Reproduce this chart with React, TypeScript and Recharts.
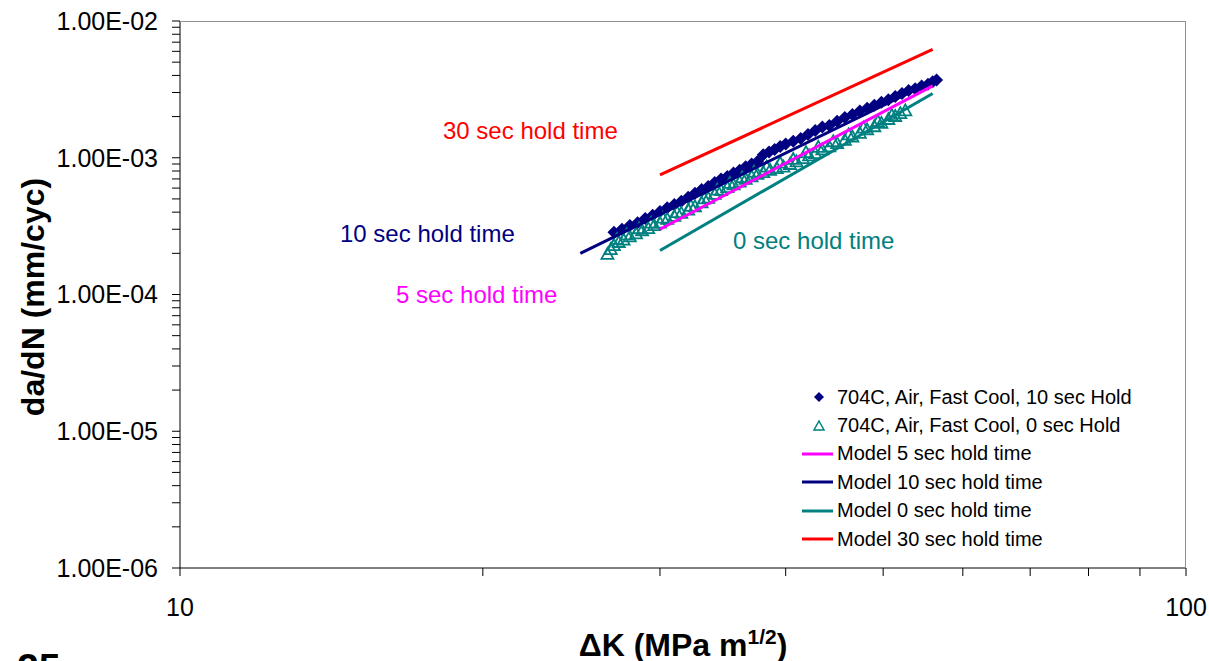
import React from "react";
import { Scatter, ScatterChart, XAxis, YAxis } from "recharts";

// measured 704C, air, fast cool, 10 sec hold (ΔK, da/dN)
const hold10K = [
  27.0, 27.5, 28.0, 28.5, 29.0, 29.5, 30.0, 30.5, 31.0, 31.5, 32.0, 32.5, 33.0,
  33.5, 34.0, 34.5, 35.0, 35.5, 36.0, 36.5, 37.0, 37.5, 38.0, 38.5, 39.0, 39.5,
  40.0, 40.7, 41.4, 42.1, 42.8, 43.5, 44.2, 45.0, 45.8, 46.6, 47.4, 48.2, 49.0,
  49.8, 50.6, 51.4, 52.2, 53.0, 53.8, 54.6, 55.4, 56.0, 56.5,
];
const hold10Rate = [
  2.85e-4, 3.0e-4, 3.2e-4, 3.35e-4, 3.6e-4, 3.8e-4, 4.05e-4, 4.3e-4, 4.55e-4,
  4.8e-4, 5.15e-4, 5.5e-4, 5.85e-4, 6.15e-4, 6.6e-4, 7.0e-4, 7.3e-4, 7.75e-4,
  8.1e-4, 8.6e-4, 9.0e-4, 9.4e-4, 1.05e-3, 1.1e-3, 1.15e-3, 1.21e-3, 1.26e-3,
  1.32e-3, 1.38e-3, 1.48e-3, 1.58e-3, 1.68e-3, 1.72e-3, 1.85e-3, 1.97e-3,
  2.07e-3, 2.2e-3, 2.3e-3, 2.42e-3, 2.55e-3, 2.65e-3, 2.8e-3, 2.95e-3, 3.1e-3,
  3.2e-3, 3.35e-3, 3.45e-3, 3.6e-3, 3.7e-3,
];

// measured 704C, air, fast cool, 0 sec hold (band centre and upper edge)
const hold0K = [
  26.6, 26.8, 27.0, 27.3, 27.6, 28.0, 28.4, 28.8, 29.2, 29.6, 30.0, 30.5, 31.0,
  31.5, 32.0, 32.5, 33.0, 33.5, 34.0, 34.5, 35.0, 35.5, 36.0, 36.5, 37.0, 37.5,
  38.0, 38.6, 39.2, 39.8, 40.4, 41.0, 41.6, 42.2, 42.8, 43.5, 44.2, 45.0, 45.8,
  46.6, 47.4, 48.2, 49.0, 49.8, 50.6, 51.4, 52.0, 52.6,
  27.2, 27.8, 28.6, 29.4, 30.2, 31.2, 32.2, 33.2, 34.2, 35.2, 36.2, 37.2, 38.3,
  39.5, 40.7, 41.9, 43.1, 44.6, 46.2, 47.8, 49.4, 51.0,
];
const hold0Rate = [
  1.98e-4, 2.15e-4, 2.3e-4, 2.42e-4, 2.52e-4, 2.66e-4, 2.8e-4, 2.95e-4, 3.06e-4,
  3.22e-4, 3.35e-4, 3.58e-4, 3.76e-4, 3.95e-4, 4.18e-4, 4.42e-4, 4.72e-4,
  5.1e-4, 5.45e-4, 5.8e-4, 6.1e-4, 6.38e-4, 6.7e-4, 7.02e-4, 7.3e-4, 7.62e-4,
  7.85e-4, 8.15e-4, 8.4e-4, 8.62e-4, 9.0e-4, 9.4e-4, 9.95e-4, 1.04e-3, 1.08e-3,
  1.15e-3, 1.21e-3, 1.28e-3, 1.35e-3, 1.43e-3, 1.52e-3, 1.61e-3, 1.7e-3,
  1.8e-3, 1.92e-3, 2.02e-3, 2.12e-3, 2.22e-3,
  2.55e-4, 2.75e-4, 3.05e-4, 3.35e-4, 3.65e-4, 4.0e-4, 4.45e-4, 5.05e-4,
  5.85e-4, 6.55e-4, 7.2e-4, 7.9e-4, 8.6e-4, 9.2e-4, 9.8e-4, 1.1e-3, 1.2e-3,
  1.32e-3, 1.48e-3, 1.66e-3, 1.85e-3, 2.05e-3,
];

// model lines: end points
const model5K = [30, 56];
const model5Rate = [3.0e-4, 3.35e-3];
const model10K = [25, 56.3];
const model10Rate = [2.0e-4, 3.7e-3];
const model0K = [30, 56];
const model0Rate = [2.1e-4, 2.95e-3];
const model30K = [30, 56];
const model30Rate = [7.5e-4, 6.2e-3];

const xMajorTicks = [10, 100];
const xMinorTicks = [20, 30, 40, 50, 60, 70, 80, 90];
const yMajorTicks = [1e-6, 1e-5, 1e-4, 1e-3, 1e-2];
const yMinorSteps = [2, 3, 4, 5, 6, 7, 8, 9];

const NAVY = "#000080";
const TEAL = "#008080";
const MAGENTA = "#FF00FF";
const RED = "#FF0000";
const FONT = '"Liberation Sans", Arial, sans-serif';

const toPoints = (ks: number[], rates: number[]) =>
  ks.map((k, i) => ({ k, v: rates[i] }));

const xTicks = [...xMajorTicks, ...xMinorTicks].sort((a, b) => a - b);
const yTicks: number[] = [];
yMajorTicks.forEach((m, i) => {
  yTicks.push(m);
  if (i < yMajorTicks.length - 1) yMinorSteps.forEach((s) => yTicks.push(m * s));
});

const fmtY = (v: number) => {
  const e = Math.log10(v);
  if (Math.abs(e - Math.round(e)) > 1e-6) return "";
  const n = Math.round(e);
  return "1.00E" + (n < 0 ? "-" : "+") + String(Math.abs(n)).padStart(2, "0");
};
const fmtX = (v: number) => (xMajorTicks.includes(v) ? String(v) : "");

const Diamond = (props: any) => {
  const { cx, cy } = props;
  if (cx == null || cy == null) return <g />;
  const r = 6.5;
  return (
    <polygon
      points={`${cx},${cy - r} ${cx + r},${cy} ${cx},${cy + r} ${cx - r},${cy}`}
      fill={NAVY}
    />
  );
};

const Triangle = (props: any) => {
  const { cx, cy } = props;
  if (cx == null || cy == null) return <g />;
  return (
    <polygon
      points={`${cx},${cy - 6} ${cx + 6},${cy + 5} ${cx - 6},${cy + 5}`}
      fill="none"
      stroke={TEAL}
      strokeWidth={1.8}
    />
  );
};

const NoDot = () => <g />;

const legendRows = [
  { label: "704C, Air, Fast Cool, 10 sec Hold", kind: "diamond", color: NAVY },
  { label: "704C, Air, Fast Cool, 0 sec Hold", kind: "triangle", color: TEAL },
  { label: "Model 5 sec hold time", kind: "line", color: MAGENTA },
  { label: "Model 10 sec hold time", kind: "line", color: NAVY },
  { label: "Model 0 sec hold time", kind: "line", color: TEAL },
  { label: "Model 30 sec hold time", kind: "line", color: RED },
];

const notes = [
  { text: "30 sec hold time", color: RED, left: 443, top: 131 },
  { text: "10 sec hold time", color: NAVY, left: 340, top: 234 },
  { text: "0 sec hold time", color: TEAL, left: 733, top: 241 },
  { text: "5 sec hold time", color: MAGENTA, left: 396, top: 295 },
];

export default function App() {
  return (
    <div
      style={{
        position: "absolute",
        left: 0,
        top: 0,
        width: 1209,
        height: 661,
        overflow: "hidden",
        background: "#fff",
        fontFamily: FONT,
      }}
    >
      <ScatterChart
        width={1209}
        height={661}
        margin={{ top: 21, right: 23, bottom: 0, left: 0 }}
      >
        <XAxis
          type="number"
          dataKey="k"
          scale="log"
          domain={[10, 100]}
          allowDataOverflow
          ticks={xTicks}
          interval={0}
          tickFormatter={fmtX}
          height={93}
          tickSize={8}
          tickMargin={22}
          stroke="#000"
          tick={{ fill: "#000", fontSize: 25, fontFamily: FONT }}
        />
        <YAxis
          type="number"
          dataKey="v"
          scale="log"
          domain={[1e-6, 1e-2]}
          allowDataOverflow
          ticks={yTicks}
          interval={0}
          tickFormatter={fmtY}
          width={180}
          tickSize={8}
          tickMargin={14}
          stroke="#000"
          tick={{ fill: "#000", fontSize: 25, fontFamily: FONT }}
        />
        <Scatter
          name="704C, Air, Fast Cool, 10 sec Hold"
          data={toPoints(hold10K, hold10Rate)}
          shape={Diamond}
          isAnimationActive={false}
        />
        <Scatter
          name="704C, Air, Fast Cool, 0 sec Hold"
          data={toPoints(hold0K, hold0Rate)}
          shape={Triangle}
          isAnimationActive={false}
        />
        <Scatter
          name="Model 5 sec hold time"
          data={toPoints(model5K, model5Rate)}
          line={{ stroke: MAGENTA, strokeWidth: 3 }}
          shape={NoDot}
          isAnimationActive={false}
        />
        <Scatter
          name="Model 10 sec hold time"
          data={toPoints(model10K, model10Rate)}
          line={{ stroke: NAVY, strokeWidth: 3 }}
          shape={NoDot}
          isAnimationActive={false}
        />
        <Scatter
          name="Model 0 sec hold time"
          data={toPoints(model0K, model0Rate)}
          line={{ stroke: TEAL, strokeWidth: 3 }}
          shape={NoDot}
          isAnimationActive={false}
        />
        <Scatter
          name="Model 30 sec hold time"
          data={toPoints(model30K, model30Rate)}
          line={{ stroke: RED, strokeWidth: 3 }}
          shape={NoDot}
          isAnimationActive={false}
        />
      </ScatterChart>

      {/* plot frame, top and right */}
      <div
        style={{
          position: "absolute",
          left: 180,
          top: 21,
          width: 1006,
          height: 547,
          borderTop: "1px solid #909090",
          borderRight: "1px solid #909090",
          boxSizing: "border-box",
          pointerEvents: "none",
        }}
      />

      {notes.map((n) => (
        <div
          key={n.text}
          style={{
            position: "absolute",
            left: n.left,
            top: n.top - 12,
            fontSize: 24,
            lineHeight: "24px",
            color: n.color,
            whiteSpace: "nowrap",
          }}
        >
          {n.text}
        </div>
      ))}

      {/* legend */}
      <div style={{ position: "absolute", left: 800, top: 383 }}>
        {legendRows.map((r) => (
          <div
            key={r.label}
            style={{ display: "flex", alignItems: "center", height: 28.4 }}
          >
            <svg width={37} height={20}>
              {r.kind === "diamond" && (
                <polygon points="19,5 24,10 19,15 14,10" fill={r.color} />
              )}
              {r.kind === "triangle" && (
                <polygon
                  points="19,5 24,14 14,14"
                  fill="none"
                  stroke={r.color}
                  strokeWidth={1.5}
                />
              )}
              {r.kind === "line" && (
                <line x1={2} y1={10} x2={33} y2={10} stroke={r.color} strokeWidth={3} />
              )}
            </svg>
            <span style={{ fontSize: 20, color: "#000", whiteSpace: "nowrap" }}>
              {r.label}
            </span>
          </div>
        ))}
      </div>

      {/* axis titles */}
      <div
        style={{
          position: "absolute",
          left: 33,
          top: 297,
          transform: "translate(-50%, -50%) rotate(-90deg)",
          fontSize: 32,
          fontWeight: "bold",
          whiteSpace: "nowrap",
        }}
      >
        da/dN (mm/cyc)
      </div>
      <div
        style={{
          position: "absolute",
          left: 683,
          top: 620,
          transform: "translateX(-50%)",
          fontSize: 32,
          fontWeight: "bold",
          whiteSpace: "nowrap",
          lineHeight: "34px",
        }}
      >
        ΔK (MPa m<sup style={{ fontSize: 21 }}>1/2</sup>)
      </div>

      <div
        style={{
          position: "absolute",
          left: 17,
          top: 648,
          fontSize: 39,
          fontWeight: "bold",
          lineHeight: 1,
        }}
      >
        25
      </div>
    </div>
  );
}
